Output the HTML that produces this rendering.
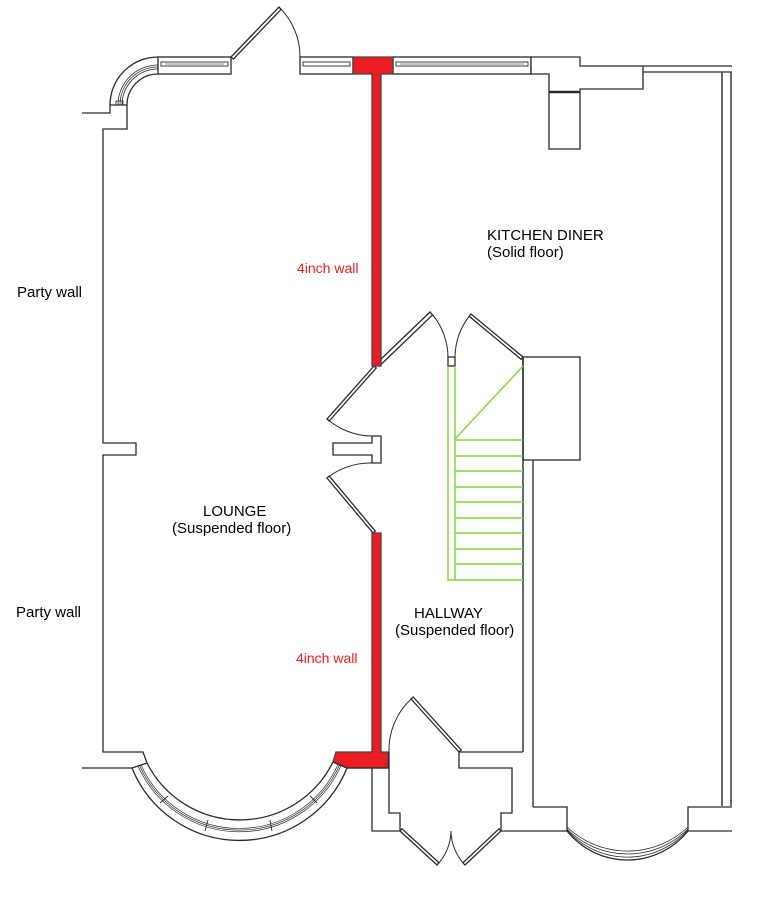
<!DOCTYPE html>
<html><head><meta charset="utf-8"><style>
html,body{margin:0;padding:0;background:#fff;}
svg{display:block;}
text{font-family:"Liberation Sans",Arial,sans-serif;}
</style></head><body>
<svg width="782" height="903" viewBox="0 0 782 903" xmlns="http://www.w3.org/2000/svg">
<g fill="none" stroke="#2a2a2a" stroke-width="1.3">
<!-- top-left bay -->
<path d="M82,113 H110 V105 H127 V129 H103 V443 H136 V455 H103 V752 H143 L147,763"/>
<path d="M110,105 A48,48 0 0 1 158,57"/>
<path d="M127,105 A31,31 0 0 1 158,74"/>
<path d="M118,105 A40,40 0 0 1 158,65" stroke-width="0.8"/>
<path d="M120,105 A38,38 0 0 1 158,67" stroke-width="0.8"/>
<path d="M122,105 A36,36 0 0 1 158,69" stroke-width="0.8"/>
<rect x="116" y="101" width="7" height="4" stroke-width="0.8"/>
<!-- top windows -->
<rect x="158" y="57" width="73" height="17"/>
<rect x="161" y="62" width="67" height="4" stroke-width="0.9"/>
<line x1="165" y1="64" x2="224" y2="64" stroke-width="0.6"/>
<rect x="300" y="57" width="53" height="17"/>
<rect x="303" y="62" width="47" height="4" stroke-width="0.9"/>
<rect x="393" y="57" width="138" height="17"/>
<rect x="396" y="62" width="132" height="4" stroke-width="0.9"/>
<line x1="400" y1="64" x2="524" y2="64" stroke-width="0.6"/>
<!-- top door -->
<polygon points="231,57 279,7 281,9.5 233.5,59" fill="#fff"/>
<path d="M280,8 A69,69 0 0 1 300,57" stroke-width="1"/>
<!-- chimney -->
<path d="M531,57 H580 V66 H643 V89 H580 V149 H549 V74 H531 Z" fill="#fff"/>
<line x1="549" y1="92" x2="580" y2="92" stroke-width="2.5"/>
<!-- kitchen top / right walls -->
<path d="M643,66 H732 M643,72 H732"/>
<path d="M722,72 V806 M731,72 V806" stroke="#444" stroke-width="1.6"/>
<!-- lounge door pair -->
<polygon points="379,361 430,312 432.5,315 381.5,364" fill="#fff"/>
<path d="M432,314 A68,68 0 0 1 448,358" stroke-width="1"/>
<rect x="448" y="357" width="7" height="9"/>
<path d="M455,357 A69,69 0 0 1 471,314" stroke-width="1"/>
<polygon points="471,314 523,357 521.1,359.3 469.1,316.3" fill="#fff"/>
<!-- hallway left doors -->
<polygon points="374,366 327,419 329.2,421 376.2,368" fill="#fff"/>
<path d="M327,419 A70,70 0 0 0 372,436" stroke-width="1"/>
<path d="M372,436 H381 V463 H372 V455 H333 V443 H372 Z" fill="#fff"/>
<path d="M372,463 A71,71 0 0 0 327,478" stroke-width="1"/>
<polygon points="327,478 373,533 375.3,531.1 329.3,476.1" fill="#fff"/>
<!-- hallway right wall & box -->
<path d="M523,357 V752" stroke="#444" stroke-width="1.6"/>
<rect x="523" y="357" width="57" height="103"/>
<path d="M533,460 V807" stroke="#444" stroke-width="1.5"/>
</g>
<!-- stairs -->
<g fill="none" stroke="#84d83c" stroke-width="1.5">
<path d="M448,366 V580 H523 M455,366 V580"/>
<line x1="455" y1="439" x2="523" y2="366"/>
<path d="M455,440 H523 M455,456 H523 M455,471 H523 M455,487 H523 M455,502 H523 M455,518 H523 M455,533 H523 M455,549 H523 M455,564 H523"/>
</g>
<!-- red walls -->
<g fill="#ed1c24" stroke="#444" stroke-width="1.3">
<polygon points="353,57 393,57 393,74 381,74 381,366 372,366 372,74 353,74"/>
<polygon points="372,533 381,533 381,752 388,752 388,768 347,768 333,762 336,752 372,752"/>
</g>
<g fill="none" stroke="#2a2a2a" stroke-width="1.3">
<!-- lounge bottom bay -->
<path d="M82,768 H132"/>
<path d="M132,768 A116,116 0 0 0 347,768"/>
<path d="M147,763 A104,104 0 0 0 333,762"/>
<path d="M132,768 L147,763 M347,768 L333,762"/>
<path d="M138,766 A111,111 0 0 0 341,765.5" stroke-width="0.7"/>
<path d="M139.5,765.5 A109.5,109.5 0 0 0 339.5,765" stroke-width="0.7"/>
<path d="M141,765 A108,108 0 0 0 338,764.5" stroke-width="0.7"/>
<path d="M160,803 L168,796 M205,831 L208,820 M272,831 L270,820 M317,803 L310,796" stroke-width="0.9"/>
<!-- porch -->
<path d="M347,768 H388"/>
<path d="M372,768 V831 H400 V813 H389 V752"/>
<path d="M389,752 A70,70 0 0 1 411,699" stroke-width="1"/>
<polygon points="411,699 459,752 461.2,750 413.2,697" fill="#fff"/>
<path d="M459,752 H523 M459,752 V768 H512 V813 H501 V831"/>
<polygon points="400,831 437,865 439,862.8 402,828.8" fill="#fff"/>
<path d="M437,865 A50,50 0 0 0 451,831" stroke-width="1"/>
<path d="M451,831 A50,50 0 0 0 465,865" stroke-width="1"/>
<polygon points="465,865 501,831 499,828.8 463,862.8" fill="#fff"/>
<path d="M501,831 H567 V807 H533"/>
<!-- kitchen bay -->
<path d="M567,831 A77.6,77.6 0 0 0 688,831"/>
<path d="M567,830 A81,81 0 0 0 688,830" stroke-width="0.8"/>
<path d="M567,829 A85.7,85.7 0 0 0 688,829" stroke-width="0.8"/>
<path d="M567,827 A88,88 0 0 0 688,827" stroke-width="0.8"/>
<path d="M688,831 V807 H732 M688,831 H732"/>
</g>
<!-- labels -->
<g font-size="15" fill="#000">
<text x="17" y="297">Party wall</text>
<text x="16" y="617">Party wall</text>
<text x="487" y="240">KITCHEN DINER</text>
<text x="487" y="257">(Solid floor)</text>
<text x="203" y="516">LOUNGE</text>
<text x="172" y="533">(Suspended floor)</text>
<text x="414" y="618">HALLWAY</text>
<text x="395" y="635">(Suspended floor)</text>
</g>
<g font-size="14" fill="#ed1c24">
<text x="297" y="273">4inch wall</text>
<text x="296" y="663">4inch wall</text>
</g>
</svg>
</body></html>
